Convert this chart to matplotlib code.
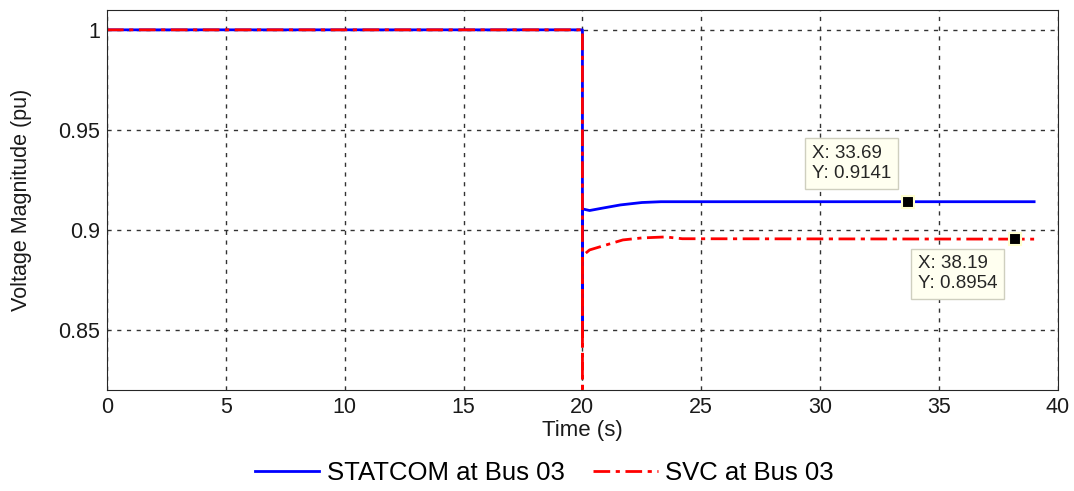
import matplotlib
matplotlib.use("Agg")
import matplotlib.pyplot as plt
import numpy as np

plt.rcParams['font.family'] = ['Liberation Sans', 'DejaVu Sans']

# STATCOM response (time in s, voltage in pu)
t_statcom = [0, 20, 20, 20, 20.3, 20.8, 21.6, 22.5, 23.3, 24, 39]
v_statcom = [1.0, 1.0, 0.85, 0.9105, 0.9097, 0.9108, 0.9125, 0.9137, 0.9141, 0.9141, 0.9141]

# SVC response
t_svc = [0, 20, 20, 20, 20.3, 21.0, 21.7, 22.5, 23.5, 24.2, 39]
v_svc = [1.0, 1.0, 0.80, 0.887, 0.890, 0.8925, 0.895, 0.896, 0.8965, 0.8956, 0.8954]

# data tips
tips_x = [33.69, 38.19]
tips_y = [0.9141, 0.8954]

fig, ax = plt.subplots(figsize=(10.74, 4.91), dpi=100)
fig.subplots_adjust(left=0.0996, right=0.985, top=0.98, bottom=0.2057)

ax.plot(t_statcom, v_statcom, color='#0000ff', lw=2, label='STATCOM at Bus 03')
ax.plot(t_svc, v_svc, color='#ff0000', lw=2, ls=(0, (6, 2, 1.5, 2)), label='SVC at Bus 03')

ax.set_xlim(0, 40)
ax.set_ylim(0.82, 1.01)
ax.set_xticks(np.arange(0, 41, 5))
ax.set_yticks([0.85, 0.9, 0.95, 1.0])
ax.set_yticklabels(['0.85', '0.9', '0.95', '1'])
ax.tick_params(labelsize=15.5, direction='in', length=0, colors='#1a1a1a')
ax.tick_params(axis='y', pad=5)
ax.tick_params(axis='x', pad=5)
ax.grid(True, color='#333333', ls=(0, (3, 4)), lw=1)
for s in ax.spines.values():
    s.set_color('#262626')
ax.set_xlabel('Time (s)', fontsize=16, color='#1a1a1a')
ax.set_ylabel('Voltage Magnitude (pu)', fontsize=15.5, color='#1a1a1a')
ax.xaxis.set_label_coords(0.5, -0.08)
ax.yaxis.set_label_coords(-0.079, 0.5)

# data cursor markers and boxes
ax.plot(tips_x, tips_y, 's', color='black', ms=8, mec='#ffffd0', mew=1.5, zorder=5)
box = dict(boxstyle='square,pad=0.35', fc='#fffff0', ec='#cfcfbf', lw=1)
ax.annotate(f"X: {tips_x[0]}\nY: {tips_y[0]}", (tips_x[0], tips_y[0]),
            xytext=(-12, 14), textcoords='offset points', fontsize=13.5,
            color='#262626', bbox=box, ha='right', va='bottom',
            multialignment='left', linespacing=1.25)
ax.annotate(f"X: {tips_x[1]}\nY: {tips_y[1]}", (tips_x[1], tips_y[1]),
            xytext=(-70, -11.5), textcoords='offset points', fontsize=13.5,
            color='#262626', bbox=box, ha='left', va='top',
            multialignment='left', linespacing=1.25)

fig.legend(loc='lower center', ncol=2, frameon=False, fontsize=18.5,
           bbox_to_anchor=(0.507, -0.035), handlelength=2.5, handletextpad=0.3,
           columnspacing=1.1)

fig.savefig('out.png')
